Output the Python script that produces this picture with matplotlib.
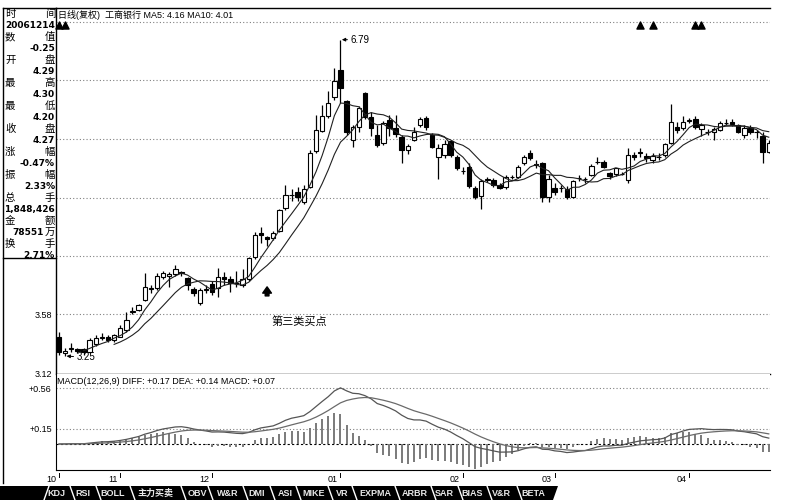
import numpy as np
import pandas as pd
import matplotlib
matplotlib.use('Agg')
import matplotlib.pyplot as plt
from matplotlib.patches import Polygon
from matplotlib.ticker import NullLocator
from matplotlib.transforms import blended_transform_factory

plt.rcParams['font.family'] = ['Liberation Sans', 'Noto Sans CJK SC', 'DejaVu Sans']

# daily bars, ICBC 2006-10-27 .. 2007-04
opens = [3.40, 3.27, 3.30, 3.30, 3.30, 3.28, 3.34, 3.39, 3.40, 3.37,
         3.40, 3.45, 3.60, 3.62, 3.70, 3.80, 3.81, 3.91, 3.92, 3.93,
         3.95, 3.90, 3.80, 3.68, 3.79, 3.84, 3.81, 3.91, 3.89, 3.85,
         3.83, 3.89, 4.09, 4.33, 4.29, 4.28, 4.35, 4.59, 4.73, 4.76,
         4.65, 4.82, 5.24, 5.49, 5.69, 5.94, 6.33, 5.88, 5.38, 5.54,
         6.00, 5.67, 5.44, 5.34, 5.63, 5.53, 5.41, 5.25, 5.38, 5.56,
         5.66, 5.44, 5.17, 5.19, 5.36, 5.17, 5.00, 5.05, 4.81, 4.72,
         4.90, 4.90, 4.84, 4.82, 4.93, 4.93, 5.10, 5.22, 5.08, 5.10,
         4.71, 4.81, 4.81, 4.80, 4.71, 4.92, 4.91, 4.95, 5.11, 5.11,
         4.98, 4.96, 4.97, 4.90, 5.19, 5.23, 5.18, 5.13, 5.17, 5.19,
         5.34, 5.54, 5.53, 5.62, 5.64, 5.52, 5.48, 5.48, 5.50, 5.59,
         5.61, 5.57, 5.44, 5.53, 5.47, 5.42, 5.23]
closes = [3.28, 3.29, 3.31, 3.29, 3.28, 3.37, 3.39, 3.40, 3.37, 3.41,
          3.47, 3.53, 3.61, 3.66, 3.82, 3.81, 3.92, 3.94, 3.93, 3.98,
          3.94, 3.83, 3.76, 3.79, 3.80, 3.77, 3.91, 3.89, 3.85, 3.85,
          3.89, 4.08, 4.31, 4.31, 4.27, 4.33, 4.57, 4.73, 4.73, 4.71,
          4.80, 5.22, 5.50, 5.69, 5.86, 6.17, 6.07, 5.47, 5.54, 5.79,
          5.67, 5.53, 5.31, 5.59, 5.53, 5.45, 5.25, 5.30, 5.48, 5.65,
          5.54, 5.29, 5.27, 5.33, 5.19, 5.04, 5.00, 4.83, 4.71, 4.89,
          4.91, 4.84, 4.81, 4.93, 4.93, 5.05, 5.17, 5.16, 5.07, 4.71,
          4.91, 4.76, 4.81, 4.71, 4.88, 4.92, 4.91, 5.06, 5.11, 5.05,
          4.94, 5.03, 4.97, 5.19, 5.17, 5.21, 5.16, 5.18, 5.17, 5.32,
          5.61, 5.50, 5.61, 5.63, 5.54, 5.57, 5.48, 5.52, 5.59, 5.59,
          5.58, 5.47, 5.53, 5.48, 5.47, 5.23, 5.34]
highs = [3.44, 3.31, 3.35, 3.31, 3.31, 3.39, 3.41, 3.43, 3.41, 3.42,
         3.49, 3.60, 3.64, 3.67, 3.94, 3.83, 3.94, 3.96, 3.95, 4.02,
         3.96, 3.91, 3.82, 3.81, 3.83, 3.87, 3.99, 3.95, 3.92, 3.96,
         3.98, 4.09, 4.34, 4.39, 4.30, 4.35, 4.58, 4.84, 4.80, 4.82,
         4.84, 5.25, 5.70, 5.83, 6.02, 6.35, 6.79, 5.90, 5.57, 5.82,
         6.01, 5.74, 5.56, 5.62, 5.70, 5.70, 5.44, 5.33, 5.54, 5.67,
         5.68, 5.46, 5.33, 5.38, 5.38, 5.19, 5.05, 5.09, 4.83, 4.91,
         4.93, 4.92, 4.86, 4.95, 4.95, 5.07, 5.19, 5.25, 5.13, 5.11,
         4.95, 4.86, 4.84, 4.83, 4.90, 4.95, 4.93, 5.08, 5.17, 5.13,
         4.99, 5.04, 4.99, 5.28, 5.23, 5.27, 5.21, 5.21, 5.21, 5.34,
         5.84, 5.61, 5.68, 5.66, 5.68, 5.59, 5.52, 5.54, 5.62, 5.65,
         5.65, 5.58, 5.56, 5.56, 5.50, 5.48, 5.38]
lows = [3.26, 3.25, 3.28, 3.27, 3.26, 3.27, 3.33, 3.37, 3.36, 3.36,
        3.40, 3.44, 3.58, 3.61, 3.69, 3.76, 3.79, 3.89, 3.82, 3.92,
        3.92, 3.79, 3.74, 3.66, 3.76, 3.75, 3.73, 3.83, 3.77, 3.82,
        3.82, 3.87, 4.07, 4.23, 4.20, 4.26, 4.34, 4.57, 4.66, 4.66,
        4.63, 4.81, 5.22, 5.47, 5.66, 5.90, 5.86, 5.44, 5.29, 5.47,
        5.65, 5.43, 5.29, 5.31, 5.43, 5.41, 5.10, 5.20, 5.36, 5.54,
        5.50, 5.27, 4.91, 5.15, 5.17, 5.01, 4.96, 4.81, 4.69, 4.58,
        4.87, 4.82, 4.79, 4.80, 4.91, 4.92, 5.07, 5.13, 5.03, 4.65,
        4.65, 4.73, 4.76, 4.68, 4.70, 4.88, 4.86, 4.94, 5.08, 5.04,
        4.91, 4.94, 4.95, 4.86, 5.13, 5.17, 5.11, 5.10, 5.13, 5.17,
        5.32, 5.46, 5.50, 5.59, 5.52, 5.43, 5.44, 5.38, 5.49, 5.56,
        5.55, 5.46, 5.40, 5.45, 5.40, 5.10, 5.21]

month_pos = [0, 10, 25, 46, 66, 81, 103]
month_labels = ['10', '11', '12', '01', '02', '03', '04']
signal_idx = [0, 1, 95, 97, 104, 105]
buy_idx = 34
high_idx = 46
low_idx = 1

price_grid = [3.58, 4.10, 4.70, 5.39, 6.18, 7.08]
price_ticks = [3.12, 3.58]
price_tick_labels = ['3.12', '3.58']
macd_grid = [0.56, 0.15]
macd_tick_labels = ['+0.56', '+0.15']

title_text = '日线(复权)  工商银行 MA5: 4.16 MA10: 4.01'
macd_text = 'MACD(12,26,9) DIFF: +0.17 DEA: +0.14 MACD: +0.07'

info_rows = [('时', '间'), '20061214', ('数', '值'), '-0.25', ('开', '盘'), '4.29',
             ('最', '高'), '4.30', ('最', '低'), '4.20', ('收', '盘'), '4.27',
             ('涨', '幅'), '-0.47%', ('振', '幅'), '2.33%', ('总', '手'), '1,848,426',
             ('金', '额'), '78551万', ('换', '手'), '2.71%']

tabs = ['KDJ', 'RSI', 'BOLL', '主力买卖', 'OBV', 'W&R', 'DMI', 'ASI', 'MIKE',
        'VR', 'EXPMA', 'ARBR', 'SAR', 'BIAS', 'V&R', 'BETA']
tab_centers = [56, 83, 113, 156, 197, 228, 257, 285, 314, 342, 375, 415, 444, 472, 501, 533]
tab_seps = [70, 96, 130, 181, 208, 243, 270, 296, 328, 352, 395, 431, 458, 487, 517]

W, H = 787, 500
fig = plt.figure(figsize=(W / 100, H / 100), dpi=100)


def rect(l, t, r, b):
    return [l / W, 1 - b / H, (r - l) / W, (b - t) / H]


o = np.array(opens)
c = np.array(closes)
hi = np.array(highs)
lo = np.array(lows)
idx = np.arange(len(c))
xlim = (-0.5, 116.2)
grid_kw = dict(color='#808080', lw=0.8, ls=(0, (1, 2)))

# ---- price panel
ax = fig.add_axes(rect(56, 8, 770, 373.5))
ax.set_yscale('log')
ax.set_ylim(3.12, 7.31)
ax.set_xlim(*xlim)
for g in price_grid:
    ax.axhline(g, zorder=0, **grid_kw)

ax.vlines(idx, lo, hi, color='k', lw=0.9, zorder=2)
up = c > o
body_lo = np.minimum(o, c)
body_h = np.abs(c - o)
ax.bar(idx, body_h, bottom=body_lo, width=0.72,
       color=np.where(up, 'white', 'black'), edgecolor='black', linewidth=0.8, zorder=3)

s = pd.Series(closes)
ax.plot(idx, s.rolling(5).mean(), color='#202020', lw=0.8, zorder=4)
ax.plot(idx, s.rolling(10).mean(), color='#202020', lw=0.8, zorder=4)

ax.yaxis.set_minor_locator(NullLocator())
ax.set_yticks(price_ticks)
ax.set_yticklabels(price_tick_labels, fontsize=6.5)
ax.set_xticks([])
ax.tick_params(axis='y', length=0, pad=3)
ax.spines['right'].set_visible(False)
for sp in ['left', 'top', 'bottom']:
    ax.spines[sp].set_linewidth(1.0)

top_tr = blended_transform_factory(ax.transData, ax.transAxes)
ax.scatter(signal_idx, [0.953] * len(signal_idx), marker='^', s=26, color='k',
           transform=top_tr, clip_on=False, zorder=5)

ax.annotate(f'{hi[high_idx]:.2f}', xy=(high_idx, hi[high_idx]), xytext=(7, 0),
            textcoords='offset points', va='center', ha='left', fontsize=7,
            arrowprops=dict(arrowstyle='-|>', color='k', lw=0.7, shrinkA=0, shrinkB=1,
                            mutation_scale=5))
ax.annotate(f'{lo[low_idx]:.2f}', xy=(low_idx, lo[low_idx]), xytext=(8, -1),
            textcoords='offset points', va='center', ha='left', fontsize=7,
            arrowprops=dict(arrowstyle='-|>', color='k', lw=0.7, shrinkA=0, shrinkB=1,
                            mutation_scale=5))
ax.annotate('', xy=(buy_idx, lo[buy_idx]), xytext=(0, -36), textcoords='offset points',
            arrowprops=dict(arrowstyle='simple,head_length=0.5,head_width=0.7,tail_width=0.3',
                            color='k', shrinkA=0, shrinkB=29.5, mutation_scale=9))
ax.annotate('第三类买点', xy=(buy_idx, lo[buy_idx]), xytext=(3, -55),
            textcoords='offset points', va='center', ha='left', fontsize=8)

# ---- MACD panel
ema12 = s.ewm(span=12, adjust=False).mean()
ema26 = s.ewm(span=26, adjust=False).mean()
diff = ema12 - ema26
dea = diff.ewm(span=9, adjust=False).mean()
macd = 2 * (diff - dea)

ax2 = fig.add_axes(rect(56, 374, 770, 470))
ax2.set_xlim(*xlim)
ax2.set_ylim(-0.26, 0.70)
for g in macd_grid:
    ax2.axhline(g, zorder=0, **grid_kw)
ax2.axhline(0, color='k', lw=0.8, ls=(0, (2, 2)), zorder=1)
ax2.vlines(idx, 0, macd, color='#7a7a7a', lw=1.4, zorder=2)
ax2.plot(idx, diff, color='#555555', lw=0.9, zorder=3)
ax2.plot(idx, dea, color='#6a6a6a', lw=0.9, zorder=3)
ax2.set_yticks(macd_grid)
ax2.set_yticklabels(macd_tick_labels, fontsize=6.5)
ax2.set_xticks([])
ax2.tick_params(axis='y', length=0, pad=3)
ax2.spines['right'].set_visible(False)
ax2.spines['top'].set_visible(False)

mtr = blended_transform_factory(ax2.transData, ax2.transAxes)
for p, lab in zip(month_pos, month_labels):
    ax2.plot([p, p], [-0.03, -0.07], color='k', lw=0.7, transform=mtr, clip_on=False)
    ax2.annotate(lab, xy=(p, 0), xycoords=mtr, xytext=(-2, -6.5), textcoords='offset points',
                 ha='right', va='center', fontsize=6.5, annotation_clip=False)

# ---- overlay: frame, info panel, titles, tab bar
ov = fig.add_axes([0, 0, 1, 1])
ov.set_xlim(0, W)
ov.set_ylim(H, 0)
ov.axis('off')
ov.patch.set_alpha(0)

ov.plot([3, 3], [8, 483], color='k', lw=1.0)
ov.plot([3, 56], [8, 8], color='k', lw=1.0)
ov.plot([3, 56], [258, 258], color='k', lw=1.0)

ov.text(58, 15, title_text, fontsize=6.5, va='center', ha='left')
ov.text(57, 381, macd_text, fontsize=6.5, va='center', ha='left')

for k, row in enumerate(info_rows):
    yy = 14 + 11.5 * k
    if isinstance(row, tuple):
        ov.text(5, yy, row[0], fontsize=7.5, va='center', ha='left', family='Noto Sans CJK SC')
        ov.text(55, yy, row[1], fontsize=7.5, va='center', ha='right', family='Noto Sans CJK SC')
    elif row.endswith('万'):
        ov.text(44, yy, row[:-1], fontsize=6.5, va='center', ha='right',
                family='DejaVu Sans', weight='bold')
        ov.text(55, yy, row[-1], fontsize=7.5, va='center', ha='right', family='Noto Sans CJK SC')
    else:
        ov.text(55, yy, row, fontsize=6.5, va='center', ha='right',
                family='DejaVu Sans', weight='bold')

ov.add_patch(Polygon([(0, 486), (558, 486), (553, 500), (0, 500)], closed=True,
                     color='black', lw=0))
ov.plot([44, 49], [500, 486], color='white', lw=1.0)
for sx in tab_seps:
    ov.plot([sx, sx + 5], [486, 500], color='white', lw=1.0)
for name, cx in zip(tabs, tab_centers):
    ov.text(cx, 493.5, name, color='#e8e8e8', fontsize=6.5, weight='bold',
            ha='center', va='center')

fig.savefig('out.png', dpi=100)
